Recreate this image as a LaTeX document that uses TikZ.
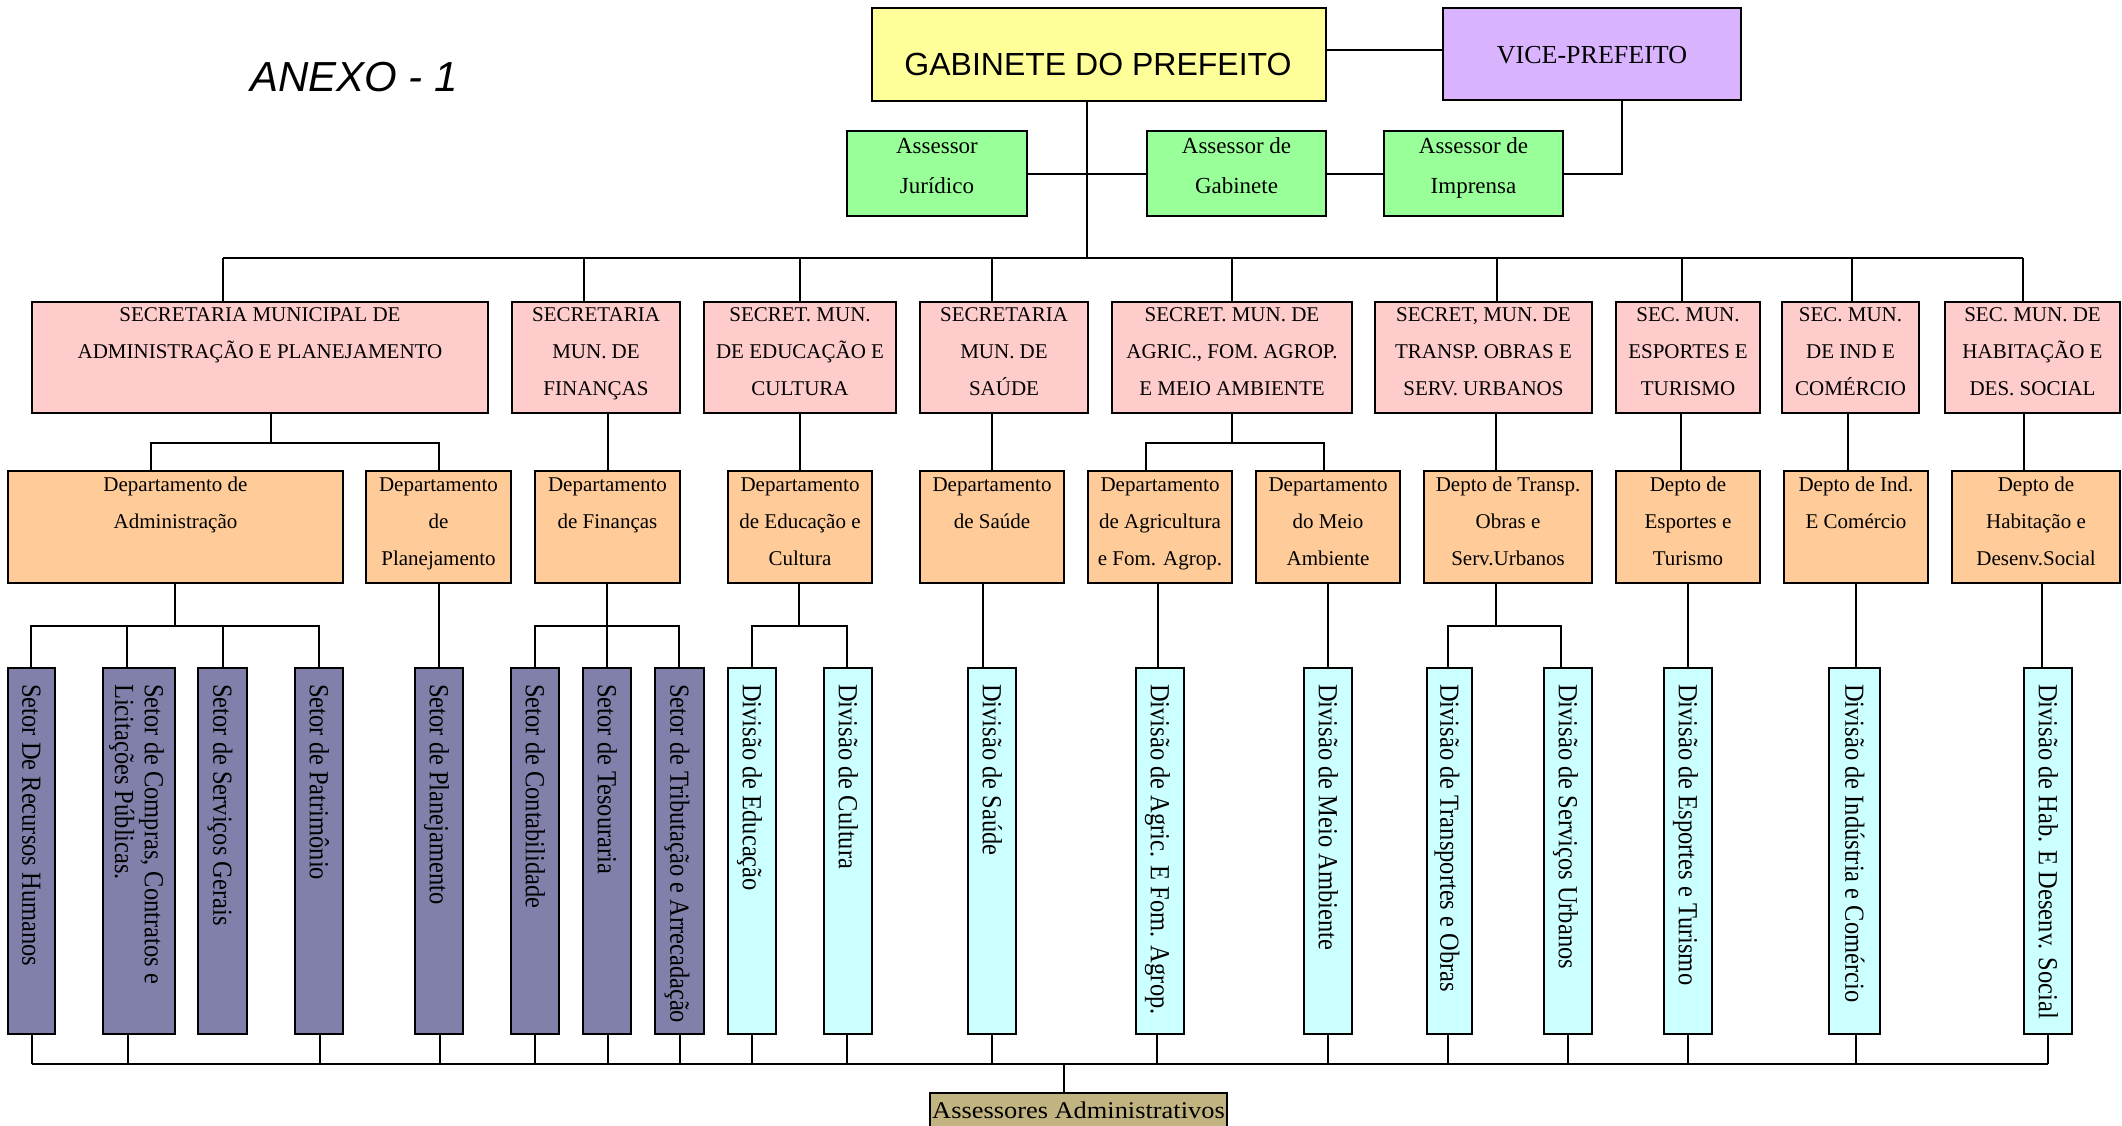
\documentclass[tikz,border=0pt]{standalone}
\usepackage{fontspec}
\setmainfont{Liberation Serif}
\newfontfamily\arialf{Liberation Sans}
\usepackage{graphicx}
\definecolor{cGab}{RGB}{255,255,153}
\definecolor{cVice}{RGB}{218,179,255}
\definecolor{cAss}{RGB}{153,255,153}
\definecolor{cSec}{RGB}{255,204,204}
\definecolor{cDep}{RGB}{255,204,153}
\definecolor{cSet}{RGB}{128,128,170}
\definecolor{cDiv}{RGB}{204,255,255}
\definecolor{cAdm}{RGB}{194,180,128}
\newcommand\bx[6]{\node[#6, minimum width={(#3-#2)*1pt}, minimum height={(#5-#4)*1pt}] (#1) at ({(#2+#3)/2},{(#4+#5)/2}) {};}
\newcommand\stx[3]{\node[stxt] (#1) at ([yshift=-3pt]#2.north) {\rule{0pt}{16pt}#3};}
\newcommand\dtx[3]{\node[dtxt] (#1) at ([yshift=-4pt]#2.north) {\rule{0pt}{16pt}#3};}
\newcommand\atx[3]{\node[atxt] (#1) at ([yshift=-6pt]#2.north) {\rule{0pt}{16pt}#3};}
\newcommand\vtx[3]{\node[vtxt] (#1) at ([yshift=-16pt]#2.north) {\scalebox{1.02}[1.15]{#3}};}
\begin{document}
\begin{tikzpicture}[x=1pt,y=-1pt,
  bx/.style={draw, line width=2.2pt, inner sep=0pt, outer sep=0pt},
  secb/.style={bx, fill=cSec},
  depb/.style={bx, fill=cDep},
  setb/.style={bx, fill=cSet},
  divb/.style={bx, fill=cDiv},
  assb/.style={bx, fill=cAss},
  ln/.style={line width=2pt, line join=miter},
  stxt/.style={anchor=north, inner sep=0pt, align=center, font=\fontsize{21}{37}\selectfont},
  dtxt/.style={anchor=north, inner sep=0pt, align=center, font=\fontsize{21}{37}\selectfont},
  atxt/.style={anchor=north, inner sep=0pt, align=center, font=\fontsize{23}{40}\selectfont},
  vtxt/.style={rotate=-90, anchor=west, inner sep=0pt, font=\fontsize{24}{26}\selectfont, text height=18.5pt, text depth=0pt},
  vtxtb/.style={rotate=-90, anchor=west, inner sep=0pt, font=\fontsize{24}{26}\selectfont}]
\useasboundingbox (0,0) rectangle (2122,1125);
\fill[white] (0,0) rectangle (2122,1125);

% title
\node[anchor=base west, inner sep=0pt, font=\arialf\itshape\fontsize{42}{42}\selectfont] (anexo) at (250,91) {ANEXO - 1};

% top level
\bx{gab}{872}{1326}{8}{101}{bx, fill=cGab}
\node[anchor=base, inner sep=0pt, font=\arialf\fontsize{32}{32}\selectfont] (gabt) at (1098,75) {GABINETE DO PREFEITO};
\bx{vice}{1443}{1741}{8}{100}{bx, fill=cVice}
\node[anchor=base, inner sep=0pt, font=\fontsize{26}{26}\selectfont] (vicet) at (1592,63) {VICE-PREFEITO};
\bx{aj}{847}{1027}{131}{216}{assb}
\bx{ag}{1147}{1326}{131}{216}{assb}
\bx{ai}{1384}{1563}{131}{216}{assb}
\atx{ajt}{aj}{Assessor\\Jurídico}
\atx{agt}{ag}{Assessor de\\Gabinete}
\atx{ait}{ai}{Assessor de\\Imprensa}

% secretarias
\bx{s1}{32}{488}{302}{413}{secb}
\bx{s2}{512}{680}{302}{413}{secb}
\bx{s3}{704}{896}{302}{413}{secb}
\bx{s4}{920}{1088}{302}{413}{secb}
\bx{s5}{1112}{1352}{302}{413}{secb}
\bx{s6}{1375}{1592}{302}{413}{secb}
\bx{s7}{1616}{1760}{302}{413}{secb}
\bx{s8}{1782}{1919}{302}{413}{secb}
\bx{s9}{1945}{2120}{302}{413}{secb}
\stx{s1t}{s1}{SECRETARIA MUNICIPAL DE\\ADMINISTRAÇÃO E PLANEJAMENTO}
\stx{s2t}{s2}{SECRETARIA\\MUN. DE\\FINANÇAS}
\stx{s3t}{s3}{SECRET. MUN.\\DE EDUCAÇÃO E\\CULTURA}
\stx{s4t}{s4}{SECRETARIA\\MUN. DE\\SAÚDE}
\stx{s5t}{s5}{SECRET. MUN. DE\\AGRIC., FOM. AGROP.\\E MEIO AMBIENTE}
\stx{s6t}{s6}{SECRET, MUN. DE\\TRANSP. OBRAS E\\SERV. URBANOS}
\stx{s7t}{s7}{SEC. MUN.\\ESPORTES E\\TURISMO}
\stx{s8t}{s8}{SEC. MUN.\\DE IND E\\COMÉRCIO}
\stx{s9t}{s9}{SEC. MUN. DE\\HABITAÇÃO E\\DES. SOCIAL}

% departamentos
\bx{d1}{8}{343}{471}{583}{depb}
\bx{d2}{366}{511}{471}{583}{depb}
\bx{d3}{535}{680}{471}{583}{depb}
\bx{d4}{728}{872}{471}{583}{depb}
\bx{d5}{920}{1064}{471}{583}{depb}
\bx{d6}{1088}{1232}{471}{583}{depb}
\bx{d7}{1256}{1400}{471}{583}{depb}
\bx{d8}{1424}{1592}{471}{583}{depb}
\bx{d9}{1616}{1760}{471}{583}{depb}
\bx{d10}{1784}{1928}{471}{583}{depb}
\bx{d11}{1952}{2120}{471}{583}{depb}
\dtx{d1t}{d1}{Departamento de\\Administração}
\dtx{d2t}{d2}{Departamento\\de\\Planejamento}
\dtx{d3t}{d3}{Departamento\\de Finanças}
\dtx{d4t}{d4}{Departamento\\de Educação e\\Cultura}
\dtx{d5t}{d5}{Departamento\\de Saúde}
\dtx{d6t}{d6}{Departamento\\de Agricultura\\e Fom. Agrop.}
\dtx{d7t}{d7}{Departamento\\do Meio\\Ambiente}
\dtx{d8t}{d8}{Depto de Transp.\\Obras e\\Serv.Urbanos}
\dtx{d9t}{d9}{Depto de\\Esportes e\\Turismo}
\dtx{d10t}{d10}{Depto de Ind.\\E Comércio}
\dtx{d11t}{d11}{Depto de\\Habitação e\\Desenv.Social}

% setores / divisoes
\bx{v1}{8}{55}{668}{1034}{setb}
\bx{v2}{103}{175}{668}{1034}{setb}
\bx{v3}{198}{247}{668}{1034}{setb}
\bx{v4}{295}{343}{668}{1034}{setb}
\bx{v5}{415}{463}{668}{1034}{setb}
\bx{v6}{511}{559}{668}{1034}{setb}
\bx{v7}{583}{631}{668}{1034}{setb}
\bx{v8}{655}{704}{668}{1034}{setb}
\bx{v9}{728}{776}{668}{1034}{divb}
\bx{v10}{824}{872}{668}{1034}{divb}
\bx{v11}{968}{1016}{668}{1034}{divb}
\bx{v12}{1136}{1184}{668}{1034}{divb}
\bx{v13}{1304}{1352}{668}{1034}{divb}
\bx{v14}{1427}{1472}{668}{1034}{divb}
\bx{v15}{1544}{1592}{668}{1034}{divb}
\bx{v16}{1664}{1712}{668}{1034}{divb}
\bx{v17}{1829}{1880}{668}{1034}{divb}
\bx{v18}{2024}{2072}{668}{1034}{divb}
\vtx{v1t}{v1}{Setor De Recursos Humanos}
\node[vtxtb] (v2t) at ([yshift=-16pt,xshift=-3pt]v2.north) {\scalebox{1.02}[1.15]{\begin{tabular}{@{}l@{}}Setor de Compras, Contratos e\\Licitações Públicas.\end{tabular}}};
\vtx{v3t}{v3}{Setor de Serviços Gerais}
\vtx{v4t}{v4}{Setor de Patrimônio}
\vtx{v5t}{v5}{Setor de Planejamento}
\vtx{v6t}{v6}{Setor de Contabilidade}
\vtx{v7t}{v7}{Setor de Tesouraria}
\vtx{v8t}{v8}{Setor de Tributação e Arrecadação}
\vtx{v9t}{v9}{Divisão de Educação}
\vtx{v10t}{v10}{Divisão de Cultura}
\vtx{v11t}{v11}{Divisão de Saúde}
\vtx{v12t}{v12}{Divisão de Agric. E Fom. Agrop.}
\vtx{v13t}{v13}{Divisão de Meio Ambiente}
\vtx{v14t}{v14}{Divisão de Transportes e Obras}
\vtx{v15t}{v15}{Divisão de Serviços Urbanos}
\vtx{v16t}{v16}{Divisão de Esportes e Turismo}
\vtx{v17t}{v17}{Divisão de Indústria e Comércio}
\vtx{v18t}{v18}{Divisão de Hab. E Desenv. Social}

% assessores administrativos
\bx{aa}{930}{1227}{1093}{1140}{bx, fill=cAdm}
\node[anchor=base, inner sep=0pt, font=\fontsize{24}{24}\selectfont] (aat) at (1078.5,1118) {\scalebox{1.1}[1]{Assessores Administrativos}};

% connectors: top
\draw[ln] (gab.east |- 0,50) -- (vice.west |- 0,50);
\draw[ln] (gab.south -| 1087,0) -- (1087,258);
\draw[ln] (aj.east) -- (ag.west);
\draw[ln] (ag.east) -- (ai.west);
\draw[ln] (ai.east) -| (vice.south -| 1622,0);

% bus to secretarias
\draw[ln] (223,258) -- (2023,258);
\foreach \n/\x in {s1/223, s2/584, s3/800, s4/992, s5/1232, s6/1497, s7/1682, s8/1852, s9/2023}
  \draw[ln] (\x,258) -- (\n.north -| \x,0);

% secretarias to departamentos
\draw[ln] (s1.south -| 271,0) -- (271,443);
\draw[ln] (d1.north -| 151,0) -- (151,443) -- (439,443) -- (d2.north -| 439,0);
\draw[ln] (s5.south -| 1232,0) -- (1232,443);
\draw[ln] (d6.north -| 1146,0) -- (1146,443) -- (1324,443) -- (d7.north -| 1324,0);
\foreach \a/\b/\x in {s2/d3/608, s3/d4/800, s4/d5/992, s6/d8/1496, s7/d9/1681, s8/d10/1848, s9/d11/2024}
  \draw[ln] (\a.south -| \x,0) -- (\b.north -| \x,0);

% departamentos to setores/divisoes
\draw[ln] (d1.south -| 175,0) -- (175,626);
\draw[ln] (v1.north -| 31,0) -- (31,626) -- (319,626) -- (v4.north -| 319,0);
\draw[ln] (127,626) -- (v2.north -| 127,0);
\draw[ln] (223,626) -- (v3.north -| 223,0);
\draw[ln] (d3.south -| 607,0) -- (v7.north -| 607,0);
\draw[ln] (v6.north -| 535,0) -- (535,626) -- (679,626) -- (v8.north -| 679,0);
\draw[ln] (d4.south -| 799,0) -- (799,626);
\draw[ln] (v9.north -| 752,0) -- (752,626) -- (847,626) -- (v10.north -| 847,0);
\draw[ln] (d8.south -| 1496,0) -- (1496,626);
\draw[ln] (v14.north -| 1448,0) -- (1448,626) -- (1561,626) -- (v15.north -| 1561,0);
\foreach \a/\b/\x in {d2/v5/439, d5/v11/983, d6/v12/1158, d7/v13/1328, d9/v16/1688, d10/v17/1856, d11/v18/2042}
  \draw[ln] (\a.south -| \x,0) -- (\b.north -| \x,0);

% bottom bus
\draw[ln] (32,1064) -- (2048,1064);
\foreach \n/\x in {v1/32, v2/128, v4/320, v5/440, v6/535, v7/608, v8/680, v9/752, v10/847, v11/992, v12/1157, v13/1328, v14/1448, v15/1568, v16/1688, v17/1856, v18/2048}
  \draw[ln] (\n.south -| \x,0) -- (\x,1064);
\draw[ln] (1064,1064) -- (aa.north -| 1064,0);
\end{tikzpicture}
\end{document}
